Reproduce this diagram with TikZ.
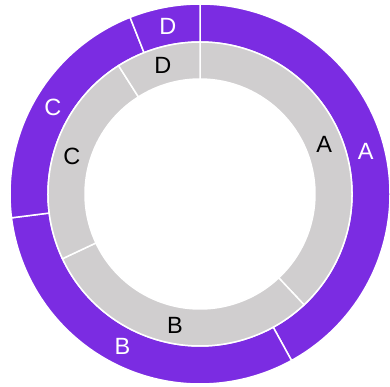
\documentclass[tikz,border=0pt]{standalone}
\usepackage{fontspec}
\setmainfont{Liberation Sans}
\definecolor{ringpurple}{RGB}{123,44,226}
\definecolor{ringgray}{RGB}{208,206,207}
\newcommand{\annsector}[5]{% style, start, end, rin, rout
  \draw[#1] (#2:#5) arc[start angle=#2, end angle=#3, radius=#5] -- (#3:#4) arc[start angle=#3, end angle=#2, radius=#4] -- cycle;}
\tikzset{
  outerseg/.style={fill=ringpurple, draw=white, line width=1.5pt, line join=miter},
  innerseg/.style={fill=ringgray, draw=white, line width=1.5pt, line join=miter},
  outerlab/.style={text=white, font=\fontsize{23.5}{28}\selectfont, inner sep=0pt},
  innerlab/.style={text=black, font=\fontsize{23.5}{28}\selectfont, inner sep=0pt}
}
\begin{document}
\begin{tikzpicture}[x=1pt,y=1pt]
\useasboundingbox (0,0) rectangle (390,386);
\begin{scope}[shift={(200,192)}]
  % outer ring
  \annsector{outerseg}{90}{-61.2}{152}{190}
  \annsector{outerseg}{-61.2}{-172.8}{152}{190}
  \annsector{outerseg}{-172.8}{-248.4}{152}{190}
  \annsector{outerseg}{-248.4}{-270}{152}{190}
  % inner ring
  \annsector{innerseg}{90}{-46.8}{115}{152}
  \annsector{innerseg}{-46.8}{-154.8}{115}{152}
  \annsector{innerseg}{-154.8}{-237.6}{115}{152}
  \annsector{innerseg}{-237.6}{-270}{115}{152}
  % labels
  \node[outerlab] (oA) at (14.4:171) {A};
  \node[outerlab] (oB) at (-117:171) {B};
  \node[outerlab] (oC) at (149.4:171) {C};
  \node[outerlab] (oD) at (100.8:171) {D};
  \node[innerlab] (iA) at (21.6:133.5) {A};
  \node[innerlab] (iB) at (-100.8:133.5) {B};
  \node[innerlab] (iC) at (163.8:133.5) {C};
  \node[innerlab] (iD) at (106.2:133.5) {D};
\end{scope}
\end{tikzpicture}
\end{document}
